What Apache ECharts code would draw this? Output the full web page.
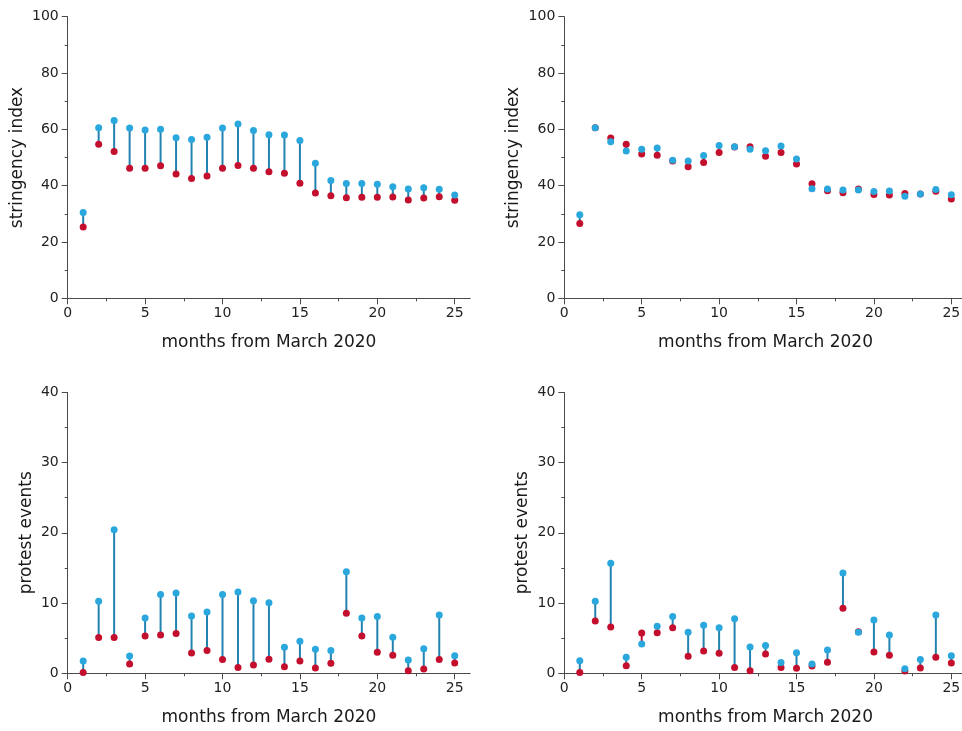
<!DOCTYPE html>
<html>
<head>
<meta charset="utf-8">
<script src="https://cdn.jsdelivr.net/npm/echarts@6/dist/echarts.min.js"></script>
<style>
html,body{margin:0;padding:0;background:#fff;overflow:hidden;}
#chart{width:980px;height:731px;}
</style>
</head>
<body>
<div id="chart"></div>
<script>
var months = [1,2,3,4,5,6,7,8,9,10,11,12,13,14,15,16,17,18,19,20,21,22,23,24,25];

// top-left: stringency index
var stringA_blue = [30.5,60.6,63.1,60.5,59.8,60.0,57.0,56.4,57.2,60.5,61.9,59.6,58.1,58.0,56.0,48.0,41.8,40.8,40.8,40.5,39.6,38.8,39.3,38.7,36.7];
var stringA_red  = [25.3,54.7,52.1,46.2,46.2,47.1,44.1,42.5,43.4,46.2,47.2,46.2,44.9,44.4,40.9,37.4,36.4,35.7,35.9,35.9,36.0,34.9,35.6,36.1,34.8];

// top-right: stringency index
var stringB_blue = [29.7,60.6,55.6,52.3,52.9,53.4,49.0,48.8,50.7,54.3,53.8,52.9,52.4,54.1,49.5,38.9,38.8,38.5,38.5,37.9,38.1,36.2,37.0,38.6,36.8];
var stringB_red  = [26.6,60.6,56.9,54.7,51.2,50.8,48.8,46.7,48.2,51.8,53.7,53.8,50.4,51.8,47.7,40.7,38.2,37.5,38.8,36.9,36.7,37.2,37.0,38.0,35.3];

// bottom-left: protest events
var protestA_blue = [1.76,10.25,20.45,2.47,7.88,11.2,11.43,8.16,8.73,11.2,11.58,10.34,10.06,3.70,4.56,3.42,3.23,14.47,7.88,8.07,5.12,1.90,3.51,8.30,2.51];
var protestA_red  = [0.1,5.08,5.08,1.33,5.31,5.46,5.65,2.89,3.23,1.95,0.81,1.19,1.99,0.95,1.76,0.76,1.42,8.54,5.31,2.99,2.56,0.38,0.62,1.95,1.47];

// bottom-right: protest events
var protestB_blue = [1.80,10.25,15.66,2.28,4.18,6.69,8.07,5.84,6.83,6.50,7.78,3.75,3.94,1.52,2.94,1.33,3.32,14.28,5.84,7.59,5.46,0.66,1.95,8.30,2.51];
var protestB_red  = [0.1,7.45,6.60,1.09,5.74,5.79,6.50,2.42,3.18,2.85,0.81,0.38,2.75,0.81,0.71,1.04,1.57,9.25,5.93,3.04,2.56,0.33,0.76,2.28,1.47];

var xTickLabels = [0,5,10,15,20,25];
var xTitle = 'months from March 2020';
var yTitleTop = 'stringency index';
var yTitleBottom = 'protest events';

var BLUE = '#2aa7dd', RED = '#c30f2d', LINKBLUE = '#2282b0';
var FONT = 'DejaVu Sans';

var panels = [
  {blue: stringA_blue, red: stringA_red, max: 100, interval: 20, name: yTitleTop, nameGap: 42},
  {blue: stringB_blue, red: stringB_red, max: 100, interval: 20, name: yTitleTop, nameGap: 42},
  {blue: protestA_blue, red: protestA_red, max: 40, interval: 10, name: yTitleBottom, nameGap: 33},
  {blue: protestB_blue, red: protestB_red, max: 40, interval: 10, name: yTitleBottom, nameGap: 33}
];

var grids = [
  {left: 67.7, top: 16.7, width: 402.5, height: 281.6},
  {left: 564.3, top: 16.7, width: 402.5, height: 281.6},
  {left: 67.7, top: 392.3, width: 402.5, height: 281},
  {left: 564.3, top: 392.3, width: 402.5, height: 281}
];

var AXC = '#4a4a4a';

var xAxes = [], yAxes = [], series = [];
panels.forEach(function (p, i) {
  xAxes.push({
    type: 'value', gridIndex: i, min: 0, max: 26, interval: 5,
    name: xTitle, nameLocation: 'middle', nameGap: 36,
    nameTextStyle: {fontFamily: FONT, fontSize: 17, color: '#1a1a1a'},
    axisLine: {show: true, lineStyle: {color: AXC, width: 1}},
    axisTick: {show: true, length: 6, lineStyle: {color: AXC}, customValues: xTickLabels},
    minorTick: {show: true, splitNumber: 2, length: 3, lineStyle: {color: AXC}},
    splitLine: {show: false},
    axisLabel: {fontFamily: FONT, fontSize: 14, color: '#222', margin: 8,
      customValues: xTickLabels}
  });
  yAxes.push({
    type: 'value', gridIndex: i, min: 0, max: p.max, interval: p.interval,
    name: p.name, nameLocation: 'middle', nameGap: p.nameGap, nameRotate: 90,
    nameTextStyle: {fontFamily: FONT, fontSize: 17, color: '#1a1a1a'},
    axisLine: {show: true, lineStyle: {color: AXC, width: 1}},
    axisTick: {show: true, length: 6, lineStyle: {color: AXC}},
    minorTick: {show: true, splitNumber: 2, length: 3, lineStyle: {color: AXC}},
    splitLine: {show: false},
    axisLabel: {fontFamily: FONT, fontSize: 14, color: '#222', margin: 9}
  });
  var linkData = months.map(function (m, k) { return [m, p.blue[k], p.red[k]]; });
  series.push({
    type: 'custom', xAxisIndex: i, yAxisIndex: i, silent: true,
    data: linkData,
    encode: {x: 0, y: [1, 2]},
    renderItem: function (params, api) {
      var a = api.coord([api.value(0), api.value(1)]);
      var b = api.coord([api.value(0), api.value(2)]);
      var col = api.value(1) >= api.value(2) ? LINKBLUE : RED;
      return {type: 'line', shape: {x1: a[0], y1: a[1], x2: b[0], y2: b[1]},
        style: {stroke: col, lineWidth: 2}};
    },
    z: 1
  });
  series.push({
    type: 'scatter', xAxisIndex: i, yAxisIndex: i, symbolSize: 7,
    itemStyle: {color: RED, opacity: 1},
    data: months.map(function (m, k) { return [m, p.red[k]]; }),
    z: 2
  });
  series.push({
    type: 'scatter', xAxisIndex: i, yAxisIndex: i, symbolSize: 7,
    itemStyle: {color: BLUE, opacity: 1},
    data: months.map(function (m, k) { return [m, p.blue[k]]; }),
    z: 3
  });
});

var chart = echarts.init(document.getElementById('chart'), null, {renderer: 'canvas'});
chart.setOption({
  animation: false,
  backgroundColor: '#fff',
  grid: grids,
  xAxis: xAxes,
  yAxis: yAxes,
  series: series
});
</script>
</body>
</html>
